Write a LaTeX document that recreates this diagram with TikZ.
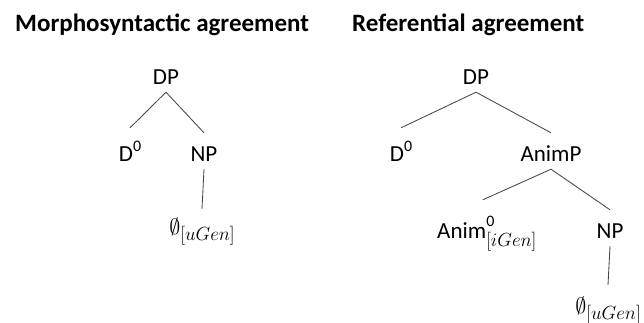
\RequirePackage{fix-cm}
\documentclass[tikz,border=0pt]{standalone}
\usepackage{fontspec}
\setmainfont{Carlito}

% raised superscript zero and lowered feature subscripts
\newcommand{\zerosup}[1][10pt]{\raisebox{#1}{\fontsize{16}{16}\selectfont 0}}
\newcommand{\featsub}[2][-6pt]{\raisebox{#1}{\fontsize{19}{19}\selectfont$[#2]$}}
\newcommand{\nulllabel}[1]{{\fontsize{22}{22}\selectfont$\emptyset$}\featsub{#1}}

\begin{document}
\begin{tikzpicture}[x=1pt,y=-1pt,
  heading/.style={anchor=base west, inner sep=0pt,
    font=\fontsize{25}{25}\selectfont\bfseries},
  cat/.style={anchor=base, inner sep=0pt, text height=28pt, text depth=8pt,
    font=\fontsize{23}{23}\selectfont},
  branch/.style={draw=black!72, line width=0.85pt}]
\useasboundingbox (0,0) rectangle (644,322);

% headings
\node[heading] (h1) at (15,31) {Morphosyntactic agreement};
\node[heading] (h2) at (352,31) {Referential agreement};

% left tree
\node[cat] (ldp)   at (166,84)  {DP};
\node[cat] (ld)    at (130,161) {D\zerosup};
\node[cat] (lnp)   at (204,161) {NP};
\node[cat] (lnull) at (202,234) {\nulllabel{uGen}};

\draw[branch] (ldp.south) -- ([yshift=5pt]ld.north);
\draw[branch] (ldp.south) -- (lnp.north);
\draw[branch] (lnp.south) -- ([yshift=-3pt]lnull.north);

% right tree
\node[cat] (rdp)    at (476,84)  {DP};
\node[cat] (rd)     at (401,161) {D\zerosup};
\node[cat] (ranimp) at (551,161) {AnimP};
\node[cat, anchor=base west] (ranim) at (437,238)
  {Anim\rlap{\zerosup[12pt]}\featsub[-8pt]{iGen}};
\node[cat] (rnp)    at (610,238) {NP};
\node[cat] (rnull)  at (608,313) {\nulllabel{uGen}};

\draw[branch] (rdp.south) -- ([yshift=5pt]rd.north);
\draw[branch] (rdp.south) -- (ranimp.north);
\draw[branch] (ranimp.south) -- ([xshift=-4pt,yshift=10pt]ranim.north);
\draw[branch] (ranimp.south) -- (rnp.north);
\draw[branch] (rnp.south) -- (rnull.north);
\end{tikzpicture}
\end{document}
